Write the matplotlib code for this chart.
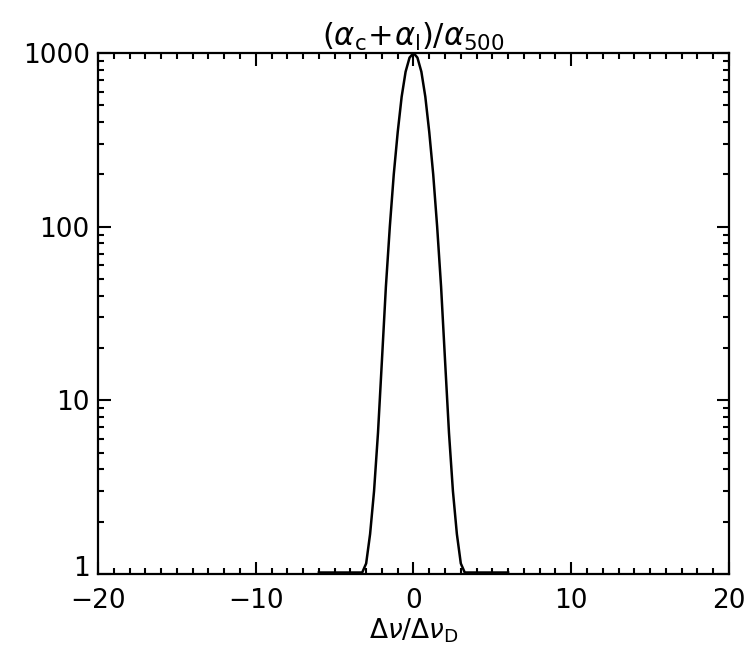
import matplotlib
matplotlib.use('Agg')
import matplotlib.pyplot as plt
import matplotlib.transforms as mtransforms
import numpy as np
from matplotlib.ticker import FixedLocator, MultipleLocator, LogLocator, NullFormatter

# profile (symmetric about 0)
x_half = [0.0, 0.25, 0.5, 0.75, 1.0, 1.25, 1.5, 1.75, 2.0, 2.25, 2.5, 2.75, 3.0, 3.25, 6.0]
y_half = [1000, 940, 780, 560, 350, 200, 100, 45, 17, 6.5, 3.0, 1.7, 1.15, 1.02, 1.02]

x_vals = [-v for v in x_half[::-1]] + x_half[1:]
y_vals = y_half[::-1] + y_half[1:]

title = r'$(\alpha_{\rm c}\!+\!\alpha_{\rm l})/\alpha_{500}$'
xlabel = r'$\Delta\nu/\Delta\nu_{\rm D}$'
xtick_vals = [-20, -10, 0, 10, 20]
xtick_labels = ['\u221220', '\u221210', '0', '10', '20']
ytick_vals = [1, 10, 100, 1000]
ytick_labels = ['1', '10', '100', '1000']

plt.rcParams['font.family'] = 'DejaVu Sans'
plt.rcParams['mathtext.fontset'] = 'dejavusans'

fig = plt.figure(figsize=(7.49, 6.6), dpi=100)
ax = fig.add_axes([0.1308, 0.1303, 0.8425, 0.7894])

ax.plot(x_vals, y_vals, color='black', linewidth=1.8)

ax.set_yscale('log')
ax.set_xlim(-20, 20)
ax.set_ylim(1, 1000)

ax.xaxis.set_major_locator(FixedLocator(xtick_vals))
ax.set_xticklabels(xtick_labels)
ax.xaxis.set_minor_locator(MultipleLocator(1))
ax.yaxis.set_major_locator(FixedLocator(ytick_vals))
ax.set_yticklabels(ytick_labels)
ax.yaxis.set_minor_locator(LogLocator(base=10, subs=np.arange(2, 10)))
ax.yaxis.set_minor_formatter(NullFormatter())

ax.tick_params(which='both', direction='in', top=True, right=True, width=1.5, labelsize=19)
ax.tick_params(axis='x', which='both', pad=10)
ax.tick_params(axis='y', which='both', pad=6)
ax.tick_params(which='major', length=9)
ax.tick_params(which='minor', length=4.5)
for s in ax.spines.values():
    s.set_linewidth(1.6)

# lift the bottom "1" label a little, as in the original
lbl = ax.get_yticklabels()[0]
lbl.set_transform(lbl.get_transform() + mtransforms.ScaledTranslation(0, 6 / 72, fig.dpi_scale_trans))

ax.set_title(title, fontsize=22, pad=2)
ax.set_xlabel(xlabel, fontsize=19, labelpad=2)

fig.savefig('out.png', dpi=100)
